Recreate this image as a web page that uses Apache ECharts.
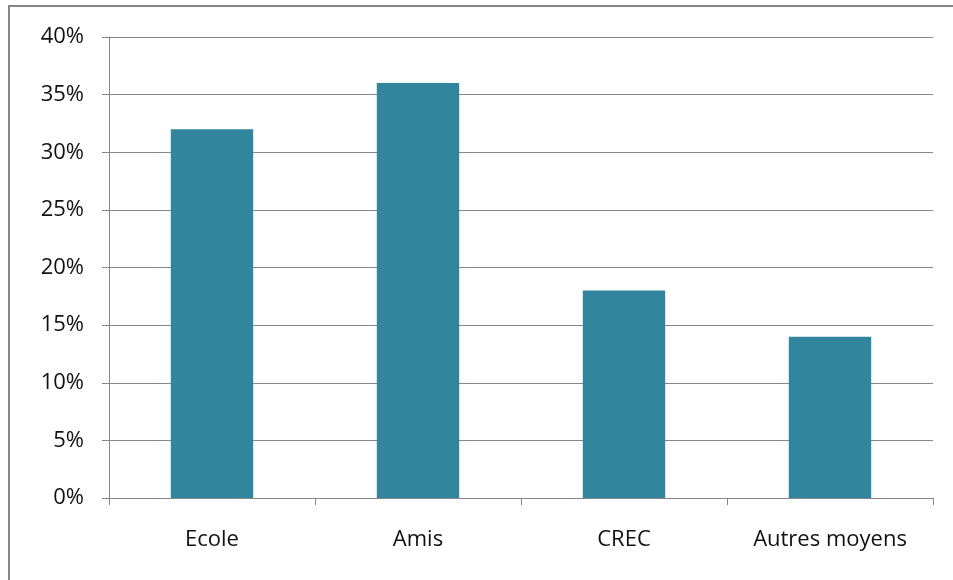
<!DOCTYPE html>
<html>
<head>
<meta charset="utf-8">
<style>
  html, body { margin: 0; padding: 0; background: #fff; }
  #chart { width: 953px; height: 580px; }
</style>
<script src="https://cdn.jsdelivr.net/npm/echarts@6/dist/echarts.min.js"></script>
</head>
<body>
<div id="chart"></div>
<script>
// catégories et valeurs (%)
const categories = ['Ecole', 'Amis', 'CREC', 'Autres moyens']
const values = [32, 36, 18, 14]

const chart = echarts.init(document.getElementById('chart'))
chart.setOption({
  animation: false,
  // cadre gris autour du graphique
  graphic: [{
    type: 'rect',
    shape: { x: 9, y: 6, width: 960, height: 600 },
    style: { fill: 'none', stroke: '#868686', lineWidth: 2 }
  }],
  grid: { left: 109, right: 20, top: 37, bottom: 82 },
  xAxis: {
    type: 'category',
    data: categories,
    axisLine: { lineStyle: { color: '#868686' } },
    axisTick: { show: true, length: 7, lineStyle: { color: '#868686' } },
    axisLabel: { margin: 31, fontSize: 22, color: '#111', fontFamily: 'Open Sans' }
  },
  yAxis: {
    type: 'value',
    min: 0,
    max: 40,
    interval: 5,
    axisLine: { show: true, lineStyle: { color: '#868686' } },
    axisTick: { show: true, length: 7, lineStyle: { color: '#868686' } },
    splitLine: { lineStyle: { color: '#868686' } },
    axisLabel: { margin: 25, fontSize: 22, color: '#111', fontFamily: 'Open Sans', formatter: '{value}%' }
  },
  series: [{
    type: 'bar',
    data: values,
    barWidth: '40%',
    itemStyle: { color: '#31859c' }
  }]
})
</script>
</body>
</html>
